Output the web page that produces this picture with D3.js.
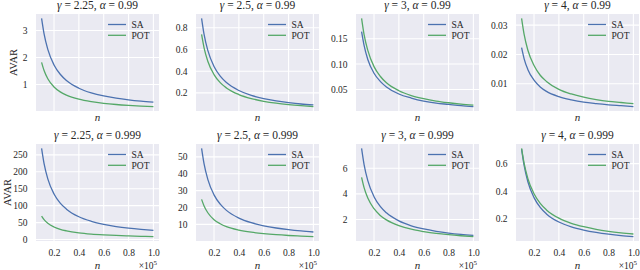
<!DOCTYPE html>
<html>
<head>
<meta charset="utf-8">
<script src="https://cdn.jsdelivr.net/npm/d3@7"></script>
<style>
  body { margin: 0; background: #fff; }
  text { font-family: "Liberation Serif", "DejaVu Serif", serif; fill: #262626; }
</style>
</head>
<body>
<svg id="chart"></svg>
<script>
/// Sample sizes n (in units of 1e5)
var nGrid = [0.1, 0.12, 0.15, 0.2, 0.25, 0.3, 0.4, 0.5, 0.6, 0.7, 0.8, 0.9, 1.0];

/// Panel parameters
var gammas = ["2.25", "2.5", "3", "4", "2.25", "2.5", "3", "4"];
var alphas = ["0.99", "0.99", "0.99", "0.99", "0.999", "0.999", "0.999", "0.999"];

/// AVAR, alpha = 0.99
var sa_225_099  = [3.45, 2.875, 2.30, 1.725, 1.38, 1.15, 0.863, 0.69, 0.575, 0.493, 0.431, 0.383, 0.345];
var pot_225_099 = [1.82, 1.517, 1.213, 0.91, 0.728, 0.607, 0.455, 0.364, 0.303, 0.26, 0.228, 0.202, 0.182];
var sa_25_099   = [0.886, 0.738, 0.591, 0.443, 0.354, 0.295, 0.222, 0.177, 0.148, 0.127, 0.111, 0.098, 0.089];
var pot_25_099  = [0.738, 0.615, 0.492, 0.369, 0.295, 0.246, 0.185, 0.148, 0.123, 0.105, 0.092, 0.082, 0.074];
var sa_3_099    = [0.164, 0.137, 0.109, 0.082, 0.066, 0.055, 0.041, 0.033, 0.027, 0.023, 0.0205, 0.018, 0.0162];
var pot_3_099   = [0.19, 0.158, 0.127, 0.095, 0.076, 0.063, 0.0475, 0.038, 0.0317, 0.0271, 0.0238, 0.0211, 0.019];
var sa_4_099    = [0.0223, 0.0186, 0.0149, 0.0112, 0.0089, 0.0074, 0.0056, 0.0045, 0.0037, 0.0032, 0.0028, 0.0025, 0.0022];
var pot_4_099   = [0.0323, 0.0269, 0.0215, 0.0162, 0.0129, 0.0108, 0.0081, 0.0065, 0.0054, 0.0046, 0.0040, 0.0036, 0.0032];

/// AVAR, alpha = 0.999
var sa_225_0999  = [269, 224, 179, 134.5, 107.6, 89.7, 67.2, 53.8, 44.8, 38.4, 33.6, 29.9, 26.9];
var pot_225_0999 = [69, 58.6, 47.9, 37.0, 30.2, 25.7, 19.8, 16.2, 13.8, 12.0, 10.6, 9.55, 8.7];
var sa_25_0999   = [55, 45.8, 36.7, 27.5, 22, 18.3, 13.75, 11, 9.17, 7.86, 6.88, 6.11, 5.5];
var pot_25_0999  = [24.8, 20.9, 16.9, 12.8, 10.4, 8.7, 6.65, 5.38, 4.52, 3.9, 3.44, 3.08, 2.78];
var sa_3_0999    = [7.55, 6.29, 5.03, 3.78, 3.02, 2.52, 1.89, 1.51, 1.26, 1.08, 0.944, 0.839, 0.755];
var pot_3_0999   = [5.29, 4.49, 3.67, 2.84, 2.32, 1.97, 1.52, 1.24, 1.06, 0.918, 0.814, 0.732, 0.666];
var sa_4_0999    = [0.705, 0.588, 0.47, 0.353, 0.282, 0.235, 0.176, 0.141, 0.118, 0.101, 0.088, 0.078, 0.0705];
var pot_4_0999   = [0.71, 0.603, 0.493, 0.381, 0.311, 0.264, 0.204, 0.167, 0.142, 0.123, 0.109, 0.098, 0.089];

/// Tick values and labels
var xTicks = [0.2, 0.4, 0.6, 0.8, 1.0];
var xTickLabels = ["0.2", "0.4", "0.6", "0.8", "1.0"];
var yTicks = [
    [1, 2, 3], [0.2, 0.4, 0.6, 0.8], [0.05, 0.10, 0.15], [0.01, 0.02, 0.03],
    [0, 50, 100, 150, 200, 250], [10, 20, 30, 40, 50], [2, 4, 6], [0.2, 0.4, 0.6]
];
var yTickLabels = [
    ["1", "2", "3"], ["0.2", "0.4", "0.6", "0.8"], ["0.05", "0.10", "0.15"], ["0.01", "0.02", "0.03"],
    ["0", "50", "100", "150", "200", "250"], ["10", "20", "30", "40", "50"], ["2", "4", "6"], ["0.2", "0.4", "0.6"]
];
var seriesNames = ["SA", "POT"];

var saSeries  = [sa_225_099, sa_25_099, sa_3_099, sa_4_099, sa_225_0999, sa_25_0999, sa_3_0999, sa_4_0999];
var potSeries = [pot_225_099, pot_25_099, pot_3_099, pot_4_099, pot_225_0999, pot_25_0999, pot_3_0999, pot_4_0999];

/// Layout
var svgWidth = 640;
var svgHeight = 270;
var colLeft = [36, 196, 356, 516];
var rowTop = [14, 144];
var plotW = 123;
var plotH = 97;
var colors = ["#4c72b0", "#55a868"];

var svg = d3.select("#chart")
    .attr("width", svgWidth)
    .attr("height", svgHeight);

var xScale = d3.scaleLinear().domain([0.055, 1.045]).range([0, plotW]);

for (var i = 0; i < 8; i++) {
    var row = Math.floor(i / 4);
    var col = i % 4;
    var series = [saSeries[i], potSeries[i]];

    var g = svg.append("g")
        .attr("transform", `translate(${colLeft[col]}, ${rowTop[row]})`);

    // y domain with 5% margins, like matplotlib
    var all = series[0].concat(series[1]);
    var lo = d3.min(all), hi = d3.max(all);
    var pad = (hi - lo) * 0.05;
    var yScale = d3.scaleLinear().domain([lo - pad, hi + pad]).range([plotH, 0]);

    g.append("rect")
        .attr("width", plotW)
        .attr("height", plotH)
        .attr("fill", "#eaeaf2");

    // grid
    g.selectAll(".vgrid")
        .data(xTicks)
        .enter()
        .append("line")
        .attr("x1", d => xScale(d))
        .attr("x2", d => xScale(d))
        .attr("y1", 0)
        .attr("y2", plotH)
        .attr("stroke", "#fff")
        .attr("stroke-width", 1.1);

    g.selectAll(".hgrid")
        .data(yTicks[i])
        .enter()
        .append("line")
        .attr("x1", 0)
        .attr("x2", plotW)
        .attr("y1", d => yScale(d))
        .attr("y2", d => yScale(d))
        .attr("stroke", "#fff")
        .attr("stroke-width", 1.1);

    // y axis
    var labels = yTickLabels[i];
    var yAxis = g.append("g")
        .call(d3.axisLeft(yScale)
            .tickValues(yTicks[i])
            .tickSize(0)
            .tickPadding(8.5)
            .tickFormat((d, k) => labels[k]));
    yAxis.select(".domain").remove();
    yAxis.selectAll("text")
        .style("font-family", '"Liberation Serif", serif')
        .style("font-size", "9.5px")
        .attr("fill", "#262626");

    // x axis only on bottom row
    if (row === 1) {
        var xAxis = g.append("g")
            .attr("transform", `translate(0, ${plotH})`)
            .call(d3.axisBottom(xScale)
                .tickValues(xTicks)
                .tickSize(0)
                .tickPadding(8.5)
                .tickFormat((d, k) => xTickLabels[k]));
        xAxis.select(".domain").remove();
        xAxis.selectAll("text")
            .style("font-family", '"Liberation Serif", serif')
            .style("font-size", "9.5px")
            .attr("fill", "#262626");

        var off = g.append("text")
            .attr("x", plotW - 2)
            .attr("y", plotH + 27.5)
            .attr("text-anchor", "end")
            .style("font-size", "9.5px")
            .text("×10");
        off.append("tspan")
            .attr("dy", -4)
            .style("font-size", "7px")
            .text("5");
    }

    // x label
    g.append("text")
        .attr("x", plotW / 2)
        .attr("y", row === 1 ? plotH + 28 : plotH + 10)
        .attr("text-anchor", "middle")
        .style("font-size", "11px")
        .style("font-style", "italic")
        .text("n");

    // y label on first column, kept inside the page
    if (col === 0) {
        var minX = d3.min(yAxis.selectAll("text").nodes(), n => n.getBBox().x);
        g.append("text")
            .attr("transform", `translate(${Math.max(minX - 6, 10.5 - colLeft[col])}, ${plotH / 2}) rotate(-90)`)
            .attr("text-anchor", "middle")
            .style("font-size", "10.5px")
            .text("AVAR");
    }

    // title
    var title = g.append("text")
        .attr("x", plotW / 2)
        .attr("y", -5)
        .attr("text-anchor", "middle")
        .style("font-size", "11.5px");
    title.append("tspan").style("font-style", "italic").text("γ");
    title.append("tspan").text(" = " + gammas[i] + ", ");
    title.append("tspan").style("font-style", "italic").text("α");
    title.append("tspan").text(" = " + alphas[i]);

    // curves
    var line = d3.line()
        .x((d, k) => xScale(nGrid[k]))
        .y(d => yScale(d))
        .curve(d3.curveMonotoneX);

    g.selectAll(".curve")
        .data(series)
        .enter()
        .append("path")
        .attr("d", d => line(d))
        .attr("fill", "none")
        .attr("stroke", (d, k) => colors[k])
        .attr("stroke-width", 1.3);

    // legend
    var legend = g.selectAll(".legend")
        .data(seriesNames)
        .enter()
        .append("g")
        .attr("transform", (d, k) => `translate(72, ${10.5 + k * 10.8})`);
    legend.append("line")
        .attr("x1", 0)
        .attr("x2", 18)
        .attr("stroke", (d, k) => colors[k])
        .attr("stroke-width", 1.3);
    legend.append("text")
        .attr("x", 23.5)
        .attr("y", 3.3)
        .style("font-size", "9.5px")
        .text(d => d);
}
</script>
</body>
</html>
